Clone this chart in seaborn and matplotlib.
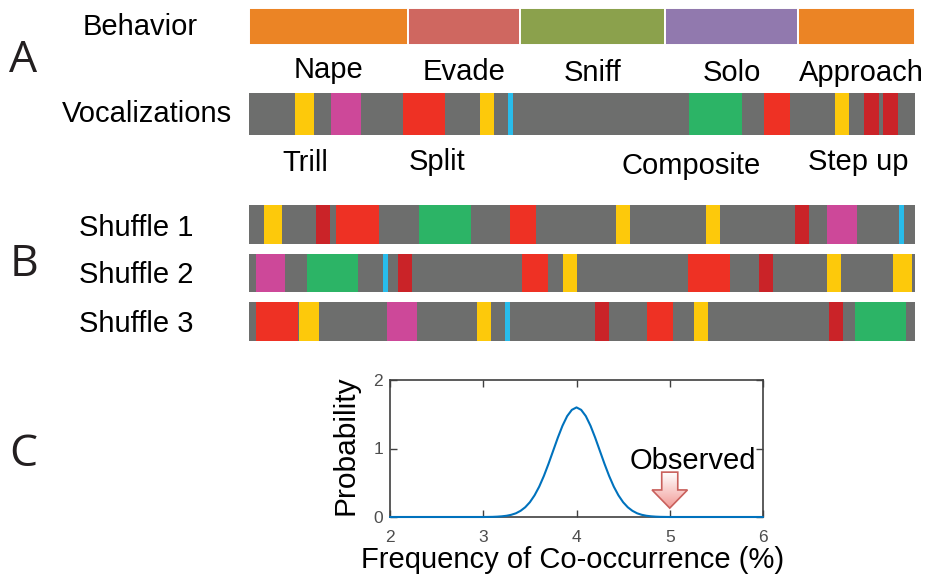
import numpy as np
import matplotlib
matplotlib.use("Agg")
import matplotlib.pyplot as plt
from matplotlib.patches import Polygon
from matplotlib.colors import LinearSegmentedColormap
import seaborn as sns

# ---------------- data ----------------
behav_names = ["Nape", "Evade", "Sniff", "Solo", "Approach"]
behav_edges = [0, 23.9, 40.7, 62.5, 82.4, 100]          # time (% of bout)

call_labels = ["Trill", "Split", "Composite", "Step up"]

vocal_types = ["trill", "mag", "split", "trill", "cyan", "composite", "split", "trill", "stepup", "stepup"]
vocal_start = [6.98, 12.25, 23.1, 34.7, 38.9, 66.1, 77.3, 88.0, 92.4, 95.2]
vocal_end   = [9.74, 16.8, 29.5, 36.75, 39.6, 73.95, 81.2, 90.1, 94.6, 97.4]

shuf1_types = ["trill", "stepup", "split", "composite", "split", "trill", "trill", "stepup", "mag", "cyan"]
shuf1_start = [2.18, 10.0, 13.1, 25.6, 39.2, 55.15, 68.6, 81.95, 86.75, 97.6]
shuf1_end   = [5.0, 12.1, 19.5, 33.3, 43.1, 57.25, 70.65, 84.05, 91.3, 98.3]

shuf2_types = ["mag", "composite", "cyan", "stepup", "split", "trill", "split", "stepup", "trill", "trill"]
shuf2_start = [0.99, 8.77, 20.1, 22.3, 41.05, 47.15, 65.95, 76.55, 86.75, 96.7]
shuf2_end   = [5.47, 16.4, 20.8, 24.45, 44.85, 49.25, 72.25, 78.65, 88.85, 99.5]

shuf3_types = ["split", "trill", "mag", "trill", "cyan", "stepup", "split", "trill", "stepup", "composite"]
shuf3_start = [0.99, 7.58, 20.7, 34.3, 38.5, 51.95, 59.7, 66.75, 87.1, 91.0]
shuf3_end   = [7.3, 10.5, 25.2, 36.35, 39.2, 54.05, 63.6, 68.85, 89.2, 98.7]

shuffle_names = ["Shuffle 1", "Shuffle 2", "Shuffle 3"]

curve_x = [2.0, 3.0, 3.1, 3.15, 3.2, 3.25, 3.3, 3.35, 3.4, 3.45, 3.5, 3.55, 3.6, 3.65,
           3.7, 3.75, 3.8, 3.85, 3.9, 3.95, 4.0, 4.05, 4.1, 4.15, 4.2, 4.25, 4.3, 4.35,
           4.4, 4.45, 4.5, 4.55, 4.6, 4.65, 4.7, 4.75, 4.8, 4.85, 4.9, 5.0, 6.0]
curve_y = [0.0, 0.0, 0.002, 0.005, 0.010, 0.018, 0.032, 0.054, 0.090, 0.142, 0.216, 0.316,
           0.443, 0.599, 0.777, 0.968, 1.159, 1.333, 1.473, 1.564, 1.600, 1.564, 1.473,
           1.333, 1.159, 0.968, 0.777, 0.599, 0.443, 0.316, 0.216, 0.142, 0.090, 0.054,
           0.032, 0.018, 0.010, 0.005, 0.002, 0.0, 0.0]
observed = 5.0

x_ticks = [2, 3, 4, 5, 6]
y_ticks = [0, 1, 2]

# ---------------- styles ----------------
behav_colors = ["#EB8425", "#CF6760", "#8BA14C", "#9179AE", "#EB8425"]
call_colors = {"trill": "#FDC90B", "mag": "#CD4899", "split": "#EE3124", "cyan": "#28BCEB",
               "composite": "#2CB466", "stepup": "#CA2328"}
GREY = "#6D6E6D"

sns.set_theme(style="white")
plt.rcParams["font.family"] = ["Liberation Sans", "DejaVu Sans"]

W, H = 926, 576
fig = plt.figure(figsize=(W / 100, H / 100), dpi=100)


def rect(x0, y0, x1, y1):
    return [x0 / W, 1 - y1 / H, (x1 - x0) / W, (y1 - y0) / H]


def ftext(x, y, s, size=21, color="black", **kw):
    fig.text(x / W, 1 - y / H, s, fontsize=size, va="baseline", ha="left", color=color, **kw)


def strip_axes(y0, y1):
    ax = fig.add_axes(rect(249, y0, 915, y1))
    ax.set_xlim(0, 100)
    ax.set_ylim(0, 1)
    ax.axis("off")
    return ax


# Behavior row
axb = strip_axes(7.5, 45)
for i in range(len(behav_names)):
    axb.barh(0.5, behav_edges[i + 1] - behav_edges[i], left=behav_edges[i], height=1,
             color=behav_colors[i], edgecolor="white", linewidth=1.4)


def call_row(y0, y1, types, starts, ends):
    ax = strip_axes(y0, y1)
    ax.barh(0.5, 100, left=0, height=1, color=GREY, linewidth=0)
    for t, s, e in zip(types, starts, ends):
        ax.barh(0.5, e - s, left=s, height=1, color=call_colors[t], linewidth=0)
    return ax


call_row(93, 134.5, vocal_types, vocal_start, vocal_end)
call_row(205, 244, shuf1_types, shuf1_start, shuf1_end)
call_row(254, 292.3, shuf2_types, shuf2_start, shuf2_end)
call_row(302.3, 340.7, shuf3_types, shuf3_start, shuf3_end)

# Texts
ftext(82.7, 35, "Behavior")
ftext(62, 122.3, "Vocalizations")
behav_pos = [(293.3, 78), (422.7, 80), (563.3, 80.7), (702.3, 80.7), (799.3, 80.7)]
for (x, y), s in zip(behav_pos, behav_names):
    ftext(x, y, s)
call_pos = [(282.7, 170.7), (408.3, 170), (621.7, 174.3), (807.7, 170)]
for (x, y), s in zip(call_pos, call_labels):
    ftext(x, y, s)
for (y, s) in zip([235.7, 283.3, 331.7], shuffle_names):
    ftext(79.3, y, s)

letter_font = ["Open Sans", "DejaVu Sans"]
ftext(9, 71.7, "A", size=32, family=letter_font, color="#231F20")
ftext(10, 276, "B", size=32, family=letter_font, color="#231F20")
ftext(9, 466.5, "C", size=32, family=letter_font, color="#231F20")

# ---------------- panel C ----------------
axc = fig.add_axes(rect(390, 380, 763, 517))
sns.lineplot(x=curve_x, y=curve_y, ax=axc, color="#0072BD", linewidth=1.5, clip_on=False, zorder=5)
axc.set_xlim(2, 6)
axc.set_ylim(0, 2)
axc.set_xticks(x_ticks)
axc.set_yticks(y_ticks)
axc.set_xticklabels([str(v) for v in x_ticks])
axc.set_yticklabels([str(v) for v in y_ticks])
axc.tick_params(direction="in", length=5, width=1, colors="#404040", labelcolor="#4D4D4D",
                labelsize=12.5, top=True, right=True, bottom=True, left=True)
axc.tick_params(axis="x", pad=9.5)
axc.tick_params(axis="y", pad=5)
for sp in axc.spines.values():
    sp.set_color("#404040")
    sp.set_linewidth(1.2)
    sp.set_visible(True)
axc.set_xlabel("")
axc.set_ylabel("")
axc.grid(False)

fig.text(353 / W, 1 - 445 / H, "Probability", fontsize=21.5, rotation=90, rotation_mode="anchor",
         ha="center", va="baseline", color="black")
ftext(361, 568, "Frequency of Co-occurrence (%)")
ftext(630, 469.3, "Observed")

# Observed arrow (block arrow pointing down at observed value)
sx, hx = 0.086, 0.19
y_top, y_head, y_tip = 0.655, 0.395, 0.13
verts = [(observed - sx, y_top), (observed + sx, y_top), (observed + sx, y_head),
         (observed + hx, y_head), (observed, y_tip), (observed - hx, y_head),
         (observed - sx, y_head)]
poly = Polygon(verts, closed=True, facecolor="none", edgecolor="#C9605C", linewidth=1.2, zorder=7)
axc.add_patch(poly)
grad = np.linspace(0, 1, 64).reshape(-1, 1)
cmap = LinearSegmentedColormap.from_list("pinkgrad", ["#FFFFFF", "#F29C98"])
im = axc.imshow(grad, cmap=cmap, extent=(observed - hx, observed + hx, y_tip, y_top),
                origin="upper", aspect="auto", zorder=6)
im.set_clip_path(poly)
axc.set_xlim(2, 6)
axc.set_ylim(0, 2)

fig.savefig("out.png", dpi=100)
